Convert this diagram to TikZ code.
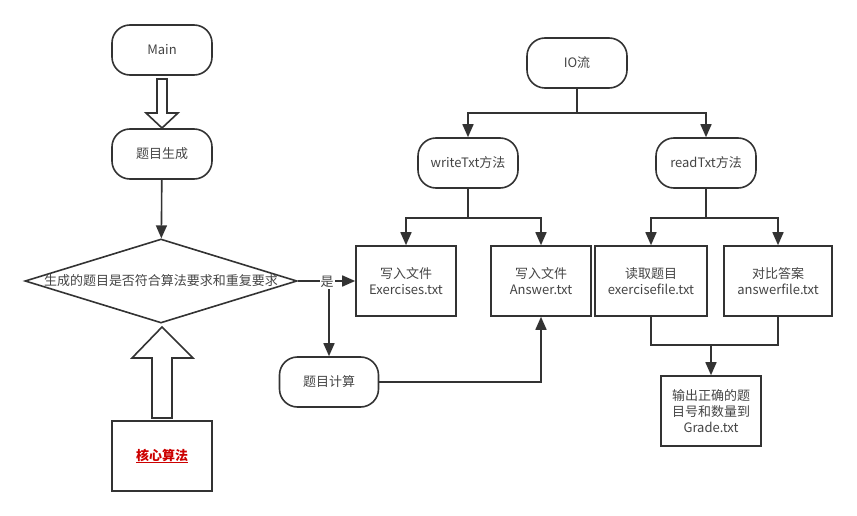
\documentclass[tikz,border=0pt]{standalone}
\usepackage{fontspec}
\setmainfont{Noto Sans CJK SC}
\usetikzlibrary{arrows.meta,shapes.geometric,positioning}
\definecolor{ln}{HTML}{333333}
\definecolor{txt}{HTML}{444444}
\definecolor{hot}{HTML}{CC0000}
\newcommand{\flowfont}{\fontsize{13}{16}\selectfont}

\begin{document}
\begin{tikzpicture}[x=1pt,y=-1pt,>={Triangle[length=13pt,width=11pt]},
term/.style={draw=ln, line width=1.6pt, rounded corners=18pt, minimum width=100pt, minimum height=50pt, text=txt, font=\flowfont},
box/.style={draw=ln, line width=1.6pt, minimum width=100pt, minimum height=70pt, text=txt, align=center, font=\flowfont},
line/.style={draw=ln, line width=1.6pt},
flow/.style={line, ->},
hollow/.style={draw=ln, line width=1.6pt, fill=white}]
\useasboundingbox (0,0) rectangle (857,516);

% left column
\node[term] (main) at (162,50) {Main};
\node[term] (gen) at (162,154) {题目生成};
\node[diamond, draw=ln, line width=1.6pt, minimum width=272pt, minimum height=84pt, inner sep=0pt] (check) at (161,281) {};
\node[text=txt, font=\flowfont, inner sep=0pt] (checktxt) at (check.center) {生成的题目是否符合算法要求和重复要求};
\node[box] (core) at (162,456) {\textcolor{hot}{\bfseries\underline{核心算法}}};
\node[term, minimum width=99pt] (calc) at (329,382) {题目计算};

% IO part
\node[term] (io) at (577,63) {IO流};
\node[term] (write) at (468,163) {writeTxt方法};
\node[term] (read) at (706,163) {readTxt方法};
\node[box] (exfile) at (406,281) {写入文件\\Exercises.txt};
\node[box] (ansfile) at (541,281) {写入文件\\Answer.txt};
\node[box, minimum width=112pt] (readex) at (651,281) {读取题目\\exercisefile.txt};
\node[box, minimum width=108pt] (cmp) at (778,281) {对比答案\\answerfile.txt};
\node[box, minimum height=70pt] (grade) at (711,411) {输出正确的题\\目号和数量到\\Grade.txt};

\coordinate (fork) at (329,281);
\coordinate (iosplit) at (577,113);
\coordinate (wsplit) at (468,218);
\coordinate (rsplit) at (706,218);
\coordinate (merge) at (711,345);

% hollow arrows
\draw[hollow] (157,79) -- (167,79) -- (167,113) -- (178,113) -- (162,128) -- (146,113) -- (157,113) -- cycle;
\draw[hollow] (152,418) -- (172,418) -- (172,358) -- (193,358) -- (162,327) -- (132,358) -- (152,358) -- cycle;

\draw[flow] (gen) -- (check);
\draw[flow] (check.east) -- (exfile.west);
\draw[flow] (fork) -- (calc.north);
\node[fill=white, inner sep=1pt, text=txt, font=\flowfont] (yes) at (327,282) {是};
\draw[flow] (calc.east) -| (ansfile.south);

\draw[line] (io) -- (iosplit);
\draw[flow] (iosplit) -| (write);
\draw[flow] (iosplit) -| (read);
\draw[line] (write) -- (wsplit);
\draw[flow] (wsplit) -| (exfile);
\draw[flow] (wsplit) -| (ansfile);
\draw[line] (read) -- (rsplit);
\draw[flow] (rsplit) -| (readex);
\draw[flow] (rsplit) -| (cmp);
\draw[line] (readex.south) |- (merge) -| (cmp.south);
\draw[flow] (merge) -- (grade);
\end{tikzpicture}
\end{document}
